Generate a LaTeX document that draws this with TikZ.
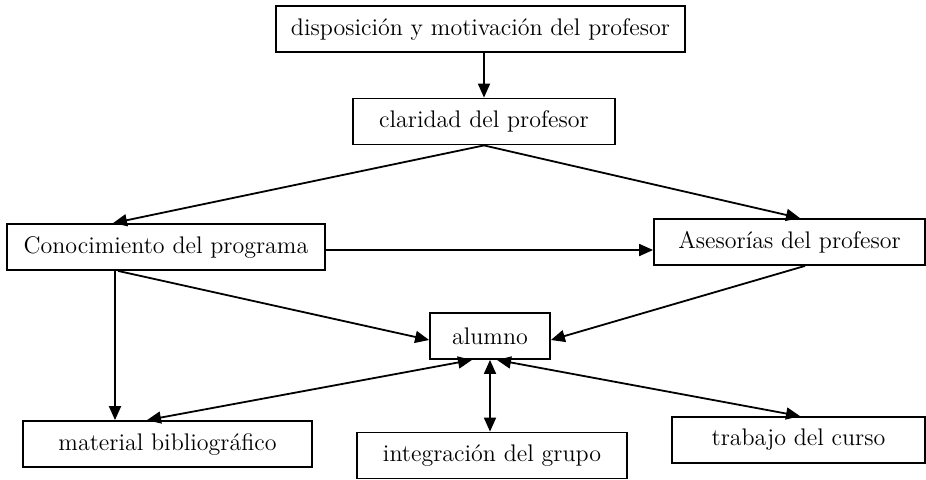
\documentclass[tikz,border=0pt]{standalone}
\usepackage{tikz}
\usetikzlibrary{arrows.meta,positioning}

\begin{document}
\begin{tikzpicture}[
  x=0.5pt, y=-0.5pt, >={Triangle[length=7pt,width=6pt]},
  caja/.style={draw, line width=0.9pt, align=center, font=\large,
               minimum height=23pt, inner sep=0pt},
  flecha/.style={->, line width=0.9pt},
  doble/.style={<->, line width=0.9pt}]
\useasboundingbox (0,0) rectangle (926,479);
\node[caja, minimum width=204.5pt] (disp) at (480.5,29) {disposición y motivación del profesor};
\node[caja, minimum width=131pt]   (clar) at (484,121.5) {claridad del profesor};
\node[caja, minimum width=159pt]   (cono) at (166,247) {Conocimiento del programa};
\node[caja, minimum width=135.5pt] (ases) at (789.5,242) {Asesorías del profesor};
\node[caja, minimum width=60pt]    (alum) at (490,336) {alumno};
\node[caja, minimum width=144.5pt] (mate) at (167.5,444) {material bibliográfico};
\node[caja, minimum width=135pt]   (inte) at (492,455.5) {integración del grupo};
\node[caja, minimum width=126.5pt] (trab) at (798.5,440) {trabajo del curso};
\draw[flecha] (clar.north |- disp.south) -- (clar.north);
\draw[flecha] (clar.south) -- ([xshift=-26.5pt]cono.north);
\draw[flecha] (clar.south) -- ([xshift=5.25pt]ases.north);
\draw[flecha] ([yshift=-1.5pt]cono.east) -- ([yshift=-1.5pt]cono.east -| ases.west);
\draw[flecha] ([xshift=-25.5pt]cono.south) -- ([xshift=-25.5pt]cono.south |- mate.north);
\draw[flecha] ([xshift=-24pt]cono.south) -- ([yshift=-2pt]alum.west);
\draw[flecha] ([xshift=7.75pt]ases.south) -- ([yshift=-2pt]alum.east);
\draw[doble] ([xshift=-9pt]alum.south) -- ([xshift=-10.25pt]mate.north);
\draw[doble] (alum.south) -- (alum.south |- inte.north);
\draw[doble] ([xshift=3.5pt]alum.south) -- ([xshift=0.75pt]trab.north);
\end{tikzpicture}
\end{document}
